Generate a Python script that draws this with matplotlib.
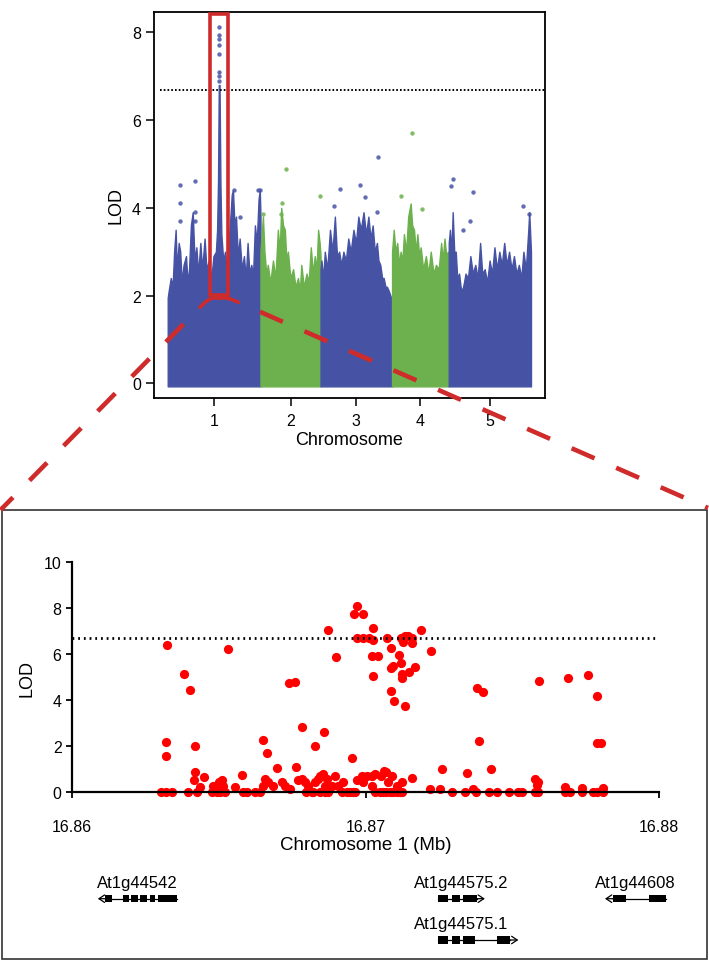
import matplotlib
matplotlib.use('Agg')
import matplotlib.pyplot as plt
from matplotlib.patches import Rectangle
from matplotlib.lines import Line2D

plt.rcParams['font.family'] = ['Liberation Sans', 'DejaVu Sans']
plt.rcParams['lines.scale_dashes'] = False

# ---------------- data: genome-wide scan ----------------
chrom_names = ['1', '2', '3', '4', '5']
chrom_lengths = [30.43, 19.70, 23.46, 18.59, 26.98]   # Mb
chrom_colors = ['#4653a5', '#6cb14d', '#4653a5', '#6cb14d', '#4653a5']
genome_threshold = 6.69

# upper envelope of the dense point cloud (position in Mb, LOD)
env_pos_1 = [0.0, 0.3, 1.0, 1.6, 2.1, 2.6, 3.0, 3.6, 4.1, 4.6, 5.2, 6.0, 6.5, 7.0, 7.6, 8.2, 8.8, 9.4,
             10.0, 10.7, 11.3, 12.1, 12.7, 13.5, 14.3, 15.0, 15.8, 16.2, 16.5, 16.75, 17.0, 17.3, 17.6,
             18.2, 18.8, 19.4, 20.2, 21.0, 21.4, 21.9, 22.4, 23.0, 23.6, 24.3, 25.0, 25.6, 26.2, 26.8,
             27.4, 28.0, 28.6, 29.2, 29.8, 30.2, 30.43]
env_lod_1 = [1.95, 2.1, 2.4, 2.2, 3.0, 3.5, 2.6, 3.2, 3.0, 2.3, 2.7, 2.9, 2.3, 2.6, 3.6, 3.9, 2.8, 3.1,
             2.5, 3.2, 2.6, 3.3, 2.6, 2.8, 2.4, 2.9, 3.0, 3.5, 4.6, 6.8, 6.8, 4.5, 3.4,
             2.8, 3.0, 2.6, 3.4, 4.3, 4.4, 3.6, 3.8, 2.9, 3.3, 2.6, 2.9, 2.4, 3.2, 2.5,
             2.7, 2.5, 3.6, 3.2, 4.2, 4.4, 3.8]
env_pos_2 = [0.0, 0.8, 1.3, 1.9, 2.4, 3.2, 4.1, 4.9, 5.7, 6.3, 6.8, 7.4, 8.0, 8.5, 9.0, 9.8, 10.7, 11.5,
             12.3, 12.9, 13.4, 14.2, 15.1, 15.8, 16.5, 17.2, 17.8, 18.4, 18.9, 19.4, 19.70]
env_lod_2 = [3.0, 3.8, 3.0, 2.5, 2.7, 2.3, 2.8, 2.4, 3.5, 3.0, 4.0, 3.6, 3.5, 2.8, 3.0, 2.4, 2.6, 2.2,
             2.4, 2.1, 2.7, 2.2, 2.5, 2.3, 3.1, 2.5, 2.9, 2.6, 3.5, 3.2, 2.9]
env_pos_3 = [0.0, 0.3, 0.9, 1.4, 2.2, 3.1, 3.9, 4.7, 5.4, 6.1, 6.8, 7.5, 8.3, 9.1, 9.9, 10.8, 11.6, 12.4,
             13.2, 14.1, 14.9, 15.7, 16.4, 17.1, 17.8, 18.5, 19.0, 19.6, 20.2, 20.7, 21.3, 21.8, 22.4,
             22.9, 23.46]
env_lod_3 = [2.6, 2.8, 2.4, 3.0, 2.6, 3.5, 3.0, 3.8, 2.9, 3.0, 2.7, 3.0, 2.8, 3.3, 3.0, 3.5, 3.2, 3.8,
             3.5, 3.9, 3.4, 3.8, 3.3, 3.6, 3.0, 3.2, 2.8, 2.7, 2.4, 2.4, 2.2, 2.2, 2.1, 2.0, 1.9]
env_pos_4 = [0.0, 0.55, 1.1, 1.7, 2.3, 2.8, 3.4, 3.9, 4.6, 5.3, 6.1, 6.6, 7.2, 7.8, 8.3, 8.9, 9.4, 10.2,
             11.1, 11.9, 12.7, 13.6, 14.4, 15.3, 16.1, 16.6, 17.2, 17.8, 18.3, 18.59]
env_lod_4 = [3.0, 3.5, 3.0, 3.2, 2.7, 3.0, 2.8, 3.4, 3.0, 3.8, 4.1, 3.6, 3.5, 3.0, 3.4, 2.9, 3.1, 2.6,
             2.9, 2.5, 3.0, 2.5, 2.7, 2.6, 3.2, 2.8, 3.3, 2.9, 3.0, 2.8]
env_pos_5 = [0.0, 0.4, 0.9, 1.3, 1.8, 2.3, 2.8, 3.4, 3.9, 4.4, 5.0, 5.5, 6.3, 7.1, 7.9, 8.7, 9.5, 10.3,
             11.0, 11.8, 12.6, 13.4, 14.2, 15.0, 15.8, 16.6, 17.4, 18.2, 19.0, 19.8, 20.6, 21.4, 22.2,
             23.0, 23.8, 24.5, 25.3, 26.1, 26.4, 26.98]
env_lod_5 = [3.2, 3.5, 3.0, 3.9, 3.0, 3.0, 2.4, 2.5, 2.2, 2.1, 2.3, 2.5, 2.4, 2.9, 2.5, 2.7, 2.4, 3.2,
             2.5, 2.6, 2.3, 2.8, 2.5, 3.1, 2.6, 3.0, 2.7, 3.2, 2.7, 3.0, 2.6, 2.9, 2.5, 2.7, 2.4, 3.0,
             2.6, 3.5, 3.9, 3.0]

# isolated markers standing above the cloud (position in Mb, LOD)
out_pos_1 = [3.9, 3.9, 4.0, 8.9, 8.9, 9.0, 16.85, 16.9, 16.85, 16.9, 16.85, 16.9, 16.85, 16.9, 21.8, 23.8, 29.6, 30.2]
out_lod_1 = [4.52, 4.1, 3.7, 4.6, 3.9, 3.7, 8.13, 7.95, 7.85, 7.7, 7.5, 7.1, 7.0, 6.9, 4.4, 3.8, 4.4, 4.4]
out_pos_2 = [0.8, 7.2, 8.3, 6.8, 19.6]
out_lod_2 = [3.85, 4.1, 4.88, 3.85, 4.28]
out_pos_3 = [4.4, 6.4, 13.0, 14.6, 18.5, 18.8]
out_lod_3 = [4.05, 4.42, 4.52, 4.24, 3.9, 5.15]
out_pos_4 = [3.0, 6.6, 9.96]
out_lod_4 = [4.26, 5.7, 3.97]
out_pos_5 = [0.74, 1.5, 4.7, 7.1, 8.1, 24.3, 26.3]
out_lod_5 = [4.49, 4.66, 3.5, 3.7, 4.35, 4.05, 3.86]

highlight_chrom = 0       # chromosome 1
highlight_center = 16.87  # Mb

# ---------------- data: fine mapping on chromosome 1 ----------------
zoom_pos = [16.86320, 16.86320, 16.86325, 16.86382, 16.86403, 16.86415, 16.86419, 16.86419, 16.86436,
            16.86449, 16.86481, 16.86493, 16.86502, 16.86510, 16.86515, 16.86530, 16.86555, 16.86578,
            16.86649, 16.86651, 16.86657, 16.86663, 16.86668, 16.86685, 16.86697, 16.86714, 16.86725,
            16.86739, 16.86742, 16.86759, 16.86764, 16.86771, 16.86782, 16.86784, 16.86793, 16.86805,
            16.86827, 16.86827, 16.86839, 16.86844, 16.86856, 16.86859, 16.86861, 16.86867, 16.86871,
            16.86884, 16.86896, 16.86898, 16.86907, 16.86924, 16.86954, 16.86961, 16.86969, 16.86971,
            16.86972, 16.86986, 16.86990, 16.86991, 16.86992, 16.87003, 16.87010, 16.87020, 16.87020,
            16.87020, 16.87025, 16.87026, 16.87026, 16.87032, 16.87043, 16.87052, 16.87063, 16.87068,
            16.87074, 16.87077, 16.87085, 16.87087, 16.87087, 16.87089, 16.87094, 16.87098, 16.87106,
            16.87113, 16.87120, 16.87122, 16.87123, 16.87123, 16.87123, 16.87128, 16.87134, 16.87135,
            16.87143, 16.87147, 16.87157, 16.87157, 16.87157, 16.87168, 16.87188, 16.87219, 16.87221,
            16.87253, 16.87259, 16.87344, 16.87366, 16.87378, 16.87387, 16.87398, 16.87426, 16.87577,
            16.87582, 16.87588, 16.87590, 16.87679, 16.87688, 16.87736, 16.87756, 16.87787, 16.87788,
            16.87801, 16.87809,
            16.86302, 16.86320, 16.86339, 16.86396, 16.86425, 16.86476, 16.86493, 16.86504, 16.86521,
            16.86581, 16.86595, 16.86623, 16.86640, 16.86798, 16.86816, 16.86822, 16.86844, 16.86861,
            16.86873, 16.86918, 16.86935, 16.86947, 16.86958, 16.86964, 16.87032, 16.87048, 16.87060,
            16.87071, 16.87083, 16.87094, 16.87106, 16.87117, 16.87123, 16.87293, 16.87338, 16.87376,
            16.87421, 16.87448, 16.87489, 16.87520, 16.87531, 16.87577, 16.87588, 16.87679, 16.87696,
            16.87736, 16.87775, 16.87787, 16.87807]
zoom_lod = [2.19, 1.56, 6.42, 5.16, 4.45, 0.55, 2.03, 0.90, 0.22,
            0.67, 0.26, 0.17, 0.45, 0.52, 0.26, 6.23, 0.25, 0.75,
            0.29, 2.27, 0.58, 1.69, 0.45, 0.26, 1.06, 0.45, 0.26,
            4.75, 0.14, 4.81, 1.12, 0.52, 0.58, 2.82, 0.45, 0.26,
            2.03, 0.45, 0.58, 0.72, 0.79, 2.64, 0.26, 0.58, 7.04,
            0.29, 0.72, 5.88, 0.26, 0.45, 1.51, 7.75, 0.52, 8.11,
            6.70, 0.72, 6.70, 7.75, 0.45, 0.72, 6.70, 5.91, 0.72,
            0.26, 6.61, 7.14, 5.07, 0.79, 5.91, 0.72, 0.94, 0.90,
            6.70, 0.45, 6.26, 5.39, 4.42, 0.72, 5.50, 3.98, 0.26,
            5.97, 6.70, 5.62, 5.14, 4.96, 0.45, 6.53, 6.79, 3.77,
            6.79, 5.22, 6.70, 6.50, 0.61, 5.43, 7.04, 0.14, 6.13,
            0.14, 1.01, 0.84, 0.14, 4.52, 2.22, 4.37, 1.01, 0.58,
            0.30, 0.45, 4.85, 0.22, 4.97, 0.17, 5.10, 2.14, 4.20,
            2.14, 0.17,
            0, 0, 0, 0, 0, 0, 0, 0, 0,
            0, 0, 0, 0, 0, 0, 0, 0, 0,
            0, 0, 0, 0, 0, 0, 0, 0, 0,
            0, 0, 0, 0, 0, 0, 0, 0, 0,
            0, 0, 0, 0, 0, 0, 0, 0, 0,
            0, 0, 0, 0]
zoom_threshold = 6.71
zoom_xticks = [16.86, 16.87, 16.88]
zoom_yticks = [0, 2, 4, 6, 8, 10]

# gene models (Mb)
gene_names = ['At1g44542', 'At1g44575.2', 'At1g44608', 'At1g44575.1']
gene_rows = [0, 0, 0, 1]
gene_strands = [-1, 1, -1, 1]
gene_exons = [
    [(16.86111, 16.86135), (16.86175, 16.86195), (16.86202, 16.86225), (16.86233, 16.86256),
     (16.86266, 16.86283), (16.86292, 16.86357)],
    [(16.87245, 16.87281), (16.87293, 16.87321), (16.87330, 16.87380)],
    [(16.87843, 16.87886), (16.87966, 16.88022)],
    [(16.87245, 16.87281), (16.87293, 16.87320), (16.87330, 16.87372), (16.87446, 16.87491)],
]
gene_tips = [16.86088, 16.87406, 16.87815, 16.87520]
gene_label_x = [16.86222, 16.87326, 16.87919, 16.87326]

# ---------------- figure ----------------
W, H = 709, 962
fig = plt.figure(figsize=(W / 100, H / 100), dpi=100)


def fxy(px, py):
    return px / W, 1 - py / H


RED = '#cf2b2b'

# ---- top: genome-wide Manhattan plot ----
ax = fig.add_axes([154 / W, 1 - 399 / H, (545 - 154) / W, (399 - 12.7) / H])
env_pos = [env_pos_1, env_pos_2, env_pos_3, env_pos_4, env_pos_5]
env_lod = [env_lod_1, env_lod_2, env_lod_3, env_lod_4, env_lod_5]
out_pos = [out_pos_1, out_pos_2, out_pos_3, out_pos_4, out_pos_5]
out_lod = [out_lod_1, out_lod_2, out_lod_3, out_lod_4, out_lod_5]
offsets = []
acc = 0.0
for L in chrom_lengths:
    offsets.append(acc)
    acc += L
total = acc
for i in range(5):
    xs = [offsets[i] + p for p in env_pos[i]]
    ax.fill_between(xs, -0.07, env_lod[i], color=chrom_colors[i], lw=1.0, ec=chrom_colors[i])
    ax.scatter([offsets[i] + p for p in out_pos[i]], out_lod[i], s=10, color=chrom_colors[i],
               lw=0, alpha=0.85)
ax.set_xlim(-4.5, total + 4.6)
ax.set_ylim(-0.335, 8.47)
ax.axhline(genome_threshold, xmin=0.015, xmax=1, color='black', lw=1.4, ls=(0, (1.2, 1.5)))
ax.set_xticks([offsets[i] + chrom_lengths[i] / 2 for i in range(5)])
ax.set_xticklabels(chrom_names)
ax.set_yticks([0, 2, 4, 6, 8])
ax.tick_params(axis='both', direction='out', length=5.5, width=1.1, labelsize=11.5, pad=4)
ax.tick_params(axis='x', pad=5)
for s in ax.spines.values():
    s.set_linewidth(1.3)
ax.set_ylabel('LOD', fontsize=13)
ax.yaxis.set_label_coords(-0.097, 0.5)
ax.yaxis.label.set_va('center')
ax.set_xlabel('Chromosome', fontsize=13)
ax.xaxis.set_label_coords(0.5, -0.108)
ax.xaxis.label.set_va('center')

# highlight box around the peak
hc = offsets[highlight_chrom] + highlight_center
ax.add_patch(Rectangle((hc - 3.03, 2.01), 6.06, 8.41 - 2.01, fill=False, ec=RED, lw=2.6,
                       clip_on=False, zorder=5))

# bracket + dashed zoom lines (figure coordinates)
br = [(200, 308.3), (206, 302.5), (212, 299), (226, 299), (232, 300.5), (238.3, 303.3)]
fig.add_artist(Line2D([fxy(*p)[0] for p in br], [fxy(*p)[1] for p in br], color=RED, lw=2.6,
                      solid_capstyle='round', zorder=10))
for (x0, y0), (x1, y1) in [((200, 308.3), (0.5, 511)), ((238.3, 303.3), (708, 509))]:
    a, b = fxy(x0, y0), fxy(x1, y1)
    fig.add_artist(Line2D([a[0], b[0]], [a[1], b[1]], color=RED, lw=3.3,
                          ls=(18, (18, 17)), zorder=10))

# frame of the lower panel
l, t = fxy(2, 511)
r, btm = fxy(707, 960)
fig.add_artist(Rectangle((l, btm), r - l, t - btm, fill=False, ec='#333333', lw=1.2,
                         transform=fig.transFigure, zorder=1))

# ---- bottom: fine-mapping scatter ----
ax2 = fig.add_axes([72 / W, 1 - 793.3 / H, (659.3 - 72) / W, 230 / H])
ax2.scatter(zoom_pos, zoom_lod, s=44, color='#ff0000', lw=0, clip_on=False, zorder=2)
ax2.hlines(zoom_threshold, zoom_xticks[0], 16.8799, color='black', lw=2.0, ls=(0, (1.3, 2.8)))
ax2.set_xlim(zoom_xticks[0], zoom_xticks[-1])
ax2.set_ylim(0, 10)
ax2.set_xticks(zoom_xticks)
ax2.set_xticklabels(['%.2f' % v for v in zoom_xticks])
ax2.set_yticks(zoom_yticks)
ax2.spines['top'].set_visible(False)
ax2.spines['right'].set_visible(False)
for s in ['left', 'bottom']:
    ax2.spines[s].set_linewidth(1.6)
    ax2.spines[s].set_zorder(3)
ax2.tick_params(axis='both', direction='out', length=4.5, width=1.3, labelsize=11.5)
ax2.tick_params(axis='x', pad=15)
ax2.tick_params(axis='y', pad=3)
ax2.set_ylabel('LOD', fontsize=13)
ax2.yaxis.set_label_coords(-0.0766, 0.5)
ax2.yaxis.label.set_va('center')
ax2.set_xlabel('Chromosome 1 (Mb)', fontsize=13.5)
ax2.xaxis.set_label_coords(0.5, -0.225)
ax2.xaxis.label.set_va('center')

# ---- gene models ----
gax = fig.add_axes([72 / W, 1 - 955 / H, (659.3 - 72) / W, 85 / H])
gax.set_xlim(zoom_xticks[0], zoom_xticks[-1])
gax.set_ylim(85, 0)
gax.axis('off')
row_gene_y = [29.7, 71.0]
row_label_y = [14.0, 55.0]
for name, row, strand, exons, tip, lx in zip(gene_names, gene_rows, gene_strands, gene_exons,
                                             gene_tips, gene_label_x):
    gy = row_gene_y[row]
    lo = min(e[0] for e in exons)
    hi = max(e[1] for e in exons)
    gax.plot([lo, hi], [gy, gy], color='black', lw=0.9, clip_on=False)
    for s0, s1 in exons:
        gax.add_patch(Rectangle((s0, gy - 3.6), s1 - s0, 7.2, fc='black', ec='none', clip_on=False))
    start = hi if strand > 0 else lo
    gax.annotate('', xy=(tip, gy), xytext=(start, gy),
                 arrowprops=dict(arrowstyle='->,head_length=0.45,head_width=0.3', lw=0.9,
                                 color='black', shrinkA=0, shrinkB=0, mutation_scale=9),
                 annotation_clip=False)
    gax.text(lx, row_label_y[row], name, ha='center', va='center', fontsize=12, clip_on=False)

fig.savefig('out.png', dpi=100)
